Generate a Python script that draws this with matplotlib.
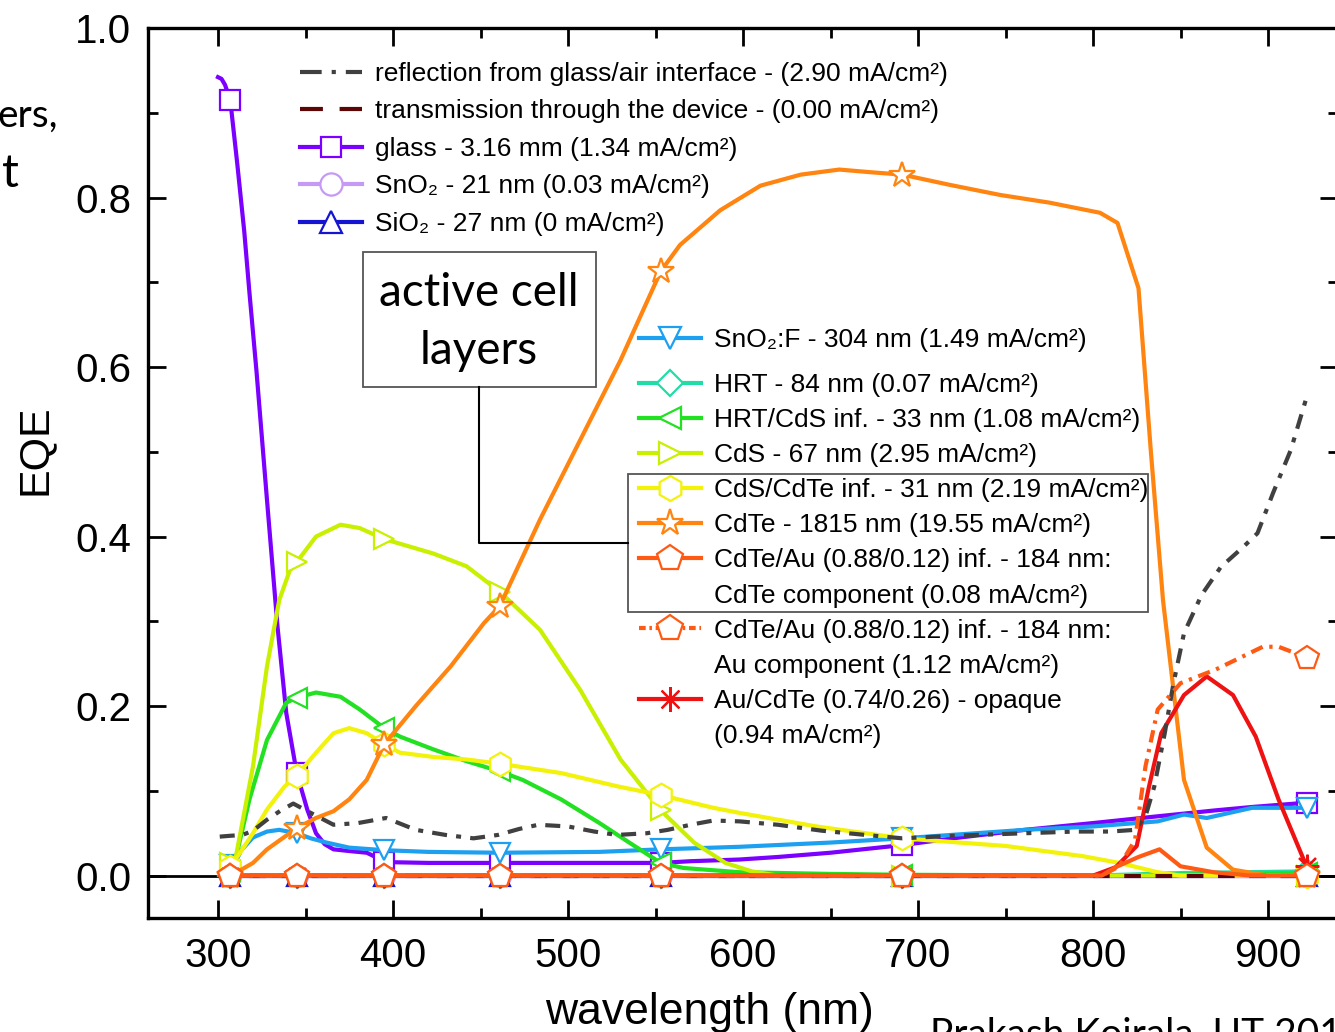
import numpy as np
import matplotlib
matplotlib.use("Agg")
import matplotlib.pyplot as plt
from matplotlib.lines import Line2D
from matplotlib.patches import Rectangle
from matplotlib.ticker import MultipleLocator

plt.rcParams['font.family'] = ['Liberation Sans', 'DejaVu Sans']

# wavelengths (nm) carrying symbols on every curve
MARK_WL = [307, 345, 395, 461, 553, 691, 922]

# reflection from glass/air interface
refl_wl = [301, 307, 314, 320, 328, 336, 343, 353, 366, 380, 396, 413, 430, 446, 460,
           472, 483, 500, 515, 528, 545, 557, 570, 583, 598, 620, 645, 670, 691, 720,
           761, 790, 810, 824, 830, 835, 841, 846, 852, 862, 873, 886, 894, 903, 913, 922]
refl_val = [0.046, 0.047, 0.048, 0.053, 0.066, 0.077, 0.085, 0.074, 0.060, 0.062, 0.068,
            0.054, 0.048, 0.044, 0.048, 0.055, 0.060, 0.058, 0.052, 0.048, 0.050, 0.054,
            0.060, 0.065, 0.064, 0.060, 0.053, 0.048, 0.044, 0.047, 0.050, 0.052, 0.052,
            0.054, 0.070, 0.105, 0.168, 0.227, 0.286, 0.331, 0.364, 0.388, 0.404, 0.452,
            0.502, 0.564]

# transmission through the device
trans_wl = [300, 400, 500, 600, 700, 800, 900, 922]
trans_val = [0, 0, 0, 0, 0, 0, 0, 0]

# glass
glass_wl = [300, 302, 304, 307, 311, 315, 318, 322, 328, 334, 339, 345, 351, 356, 361,
            366, 375, 385, 391, 395, 420, 461, 500, 553, 570, 598, 620, 650, 691, 720,
            761, 800, 837, 870, 891, 922]
glass_val = [0.942, 0.940, 0.933, 0.915, 0.840, 0.760, 0.687, 0.595, 0.443, 0.294, 0.192,
             0.121, 0.078, 0.050, 0.037, 0.031, 0.029, 0.027, 0.021, 0.016, 0.015, 0.015,
             0.015, 0.015, 0.017, 0.019, 0.022, 0.027, 0.036, 0.044, 0.054, 0.062, 0.070,
             0.077, 0.081, 0.086]

# SnO2 and SiO2 barrier layers
sno2_wl = [307, 345, 395, 461, 553, 691, 800, 922]
sno2_val = [0, 0, 0, 0, 0, 0, 0, 0]
sio2_wl = [307, 345, 395, 461, 553, 691, 800, 922]
sio2_val = [0, 0, 0, 0, 0, 0, 0, 0]

# SnO2:F
fto_wl = [307, 312, 320, 328, 335, 345, 353, 362, 375, 395, 420, 461, 518, 553, 598,
          650, 691, 761, 800, 837, 852, 865, 891, 922]
fto_val = [0.012, 0.027, 0.045, 0.052, 0.054, 0.050, 0.044, 0.039, 0.033, 0.030, 0.028,
           0.027, 0.028, 0.031, 0.034, 0.039, 0.044, 0.054, 0.058, 0.064, 0.072, 0.068,
           0.080, 0.080]

# HRT
hrt_wl = [307, 345, 395, 461, 553, 691, 800, 850, 922]
hrt_val = [0, 0, 0, 0, 0, 0, 0, 0.003, 0.005]

# HRT/CdS interface
hc_wl = [307, 310, 318, 328, 339, 345, 356, 370, 381, 395, 404, 423, 442, 461, 474,
         496, 518, 535, 553, 566, 598, 650, 691, 800, 922]
hc_val = [0.005, 0.019, 0.090, 0.160, 0.204, 0.210, 0.216, 0.211, 0.196, 0.174, 0.164,
          0.149, 0.135, 0.123, 0.113, 0.090, 0.062, 0.039, 0.015, 0.009, 0.004, 0.002,
          0.001, 0.0, 0.003]

# CdS
cds_wl = [307, 310, 320, 328, 335, 341, 345, 356, 370, 381, 395, 423, 442, 461, 484,
          507, 530, 553, 572, 590, 605, 620, 691, 800, 922]
cds_val = [0.015, 0.020, 0.129, 0.247, 0.325, 0.360, 0.370, 0.400, 0.414, 0.410, 0.397,
           0.380, 0.365, 0.335, 0.290, 0.219, 0.137, 0.077, 0.039, 0.015, 0.005, 0.0,
           0.0, 0.0, 0.0]

# CdS/CdTe interface
cc_wl = [307, 310, 320, 328, 338, 345, 356, 366, 375, 385, 395, 404, 423, 442, 461,
         496, 529, 553, 583, 598, 642, 691, 750, 794, 815, 837, 850, 922]
cc_val = [0.010, 0.019, 0.050, 0.078, 0.105, 0.118, 0.145, 0.168, 0.174, 0.168, 0.155,
          0.145, 0.140, 0.137, 0.132, 0.121, 0.105, 0.095, 0.080, 0.074, 0.058, 0.044,
          0.035, 0.023, 0.015, 0.004, 0.0, 0.0]

# CdTe
cdte_wl = [307, 310, 320, 328, 345, 356, 366, 375, 385, 395, 413, 433, 452, 461, 484,
           507, 530, 553, 564, 587, 610, 633, 655, 672, 691, 718, 747, 775, 804, 814,
           826, 833, 840, 852, 865, 880, 900, 922]
cdte_val = [0.0, 0.003, 0.015, 0.031, 0.056, 0.068, 0.076, 0.090, 0.113, 0.155, 0.200,
            0.247, 0.298, 0.318, 0.420, 0.514, 0.608, 0.713, 0.744, 0.785, 0.814, 0.827,
            0.833, 0.830, 0.827, 0.815, 0.803, 0.794, 0.782, 0.770, 0.693, 0.502, 0.325,
            0.113, 0.033, 0.007, 0.0, 0.0]

# CdTe/Au interface: CdTe component
cac_wl = [307, 345, 395, 461, 553, 691, 805, 813, 826, 838, 850, 869, 890, 922]
cac_val = [0, 0, 0, 0, 0, 0, 0, 0.010, 0.022, 0.031, 0.011, 0.004, 0.0, 0.0]

# CdTe/Au interface: Au component
cau_wl = [307, 345, 395, 461, 553, 691, 805, 815, 824, 830, 837, 850, 870, 887, 897,
          906, 915, 922]
cau_val = [0, 0, 0, 0, 0, 0, 0.0, 0.011, 0.042, 0.129, 0.196, 0.227, 0.243, 0.260,
           0.270, 0.270, 0.263, 0.257]

# Au/CdTe opaque back contact
au_wl = [307, 345, 395, 461, 553, 691, 800, 813, 825, 832, 839, 852, 865, 880, 893,
         906, 922]
au_val = [0, 0, 0, 0, 0, 0, 0, 0.010, 0.035, 0.105, 0.168, 0.213, 0.235, 0.213, 0.164,
          0.090, 0.011]

labels_top = [
    "reflection from glass/air interface - (2.90 mA/cm\u00b2)",
    "transmission through the device - (0.00 mA/cm\u00b2)",
    "glass - 3.16 mm (1.34 mA/cm\u00b2)",
    "SnO\u2082 - 21 nm (0.03 mA/cm\u00b2)",
    "SiO\u2082 - 27 nm (0 mA/cm\u00b2)",
]
labels_fto = ["SnO\u2082:F - 304 nm (1.49 mA/cm\u00b2)"]
labels_cell = [
    "HRT - 84 nm (0.07 mA/cm\u00b2)",
    "HRT/CdS inf. - 33 nm (1.08 mA/cm\u00b2)",
    "CdS - 67 nm (2.95 mA/cm\u00b2)",
    "CdS/CdTe inf. - 31 nm (2.19 mA/cm\u00b2)",
    "CdTe - 1815 nm (19.55 mA/cm\u00b2)",
    "CdTe/Au (0.88/0.12) inf. - 184 nm:",
    "CdTe component (0.08 mA/cm\u00b2)",
    "CdTe/Au (0.88/0.12) inf. - 184 nm:",
    "Au component (1.12 mA/cm\u00b2)",
    "Au/CdTe (0.74/0.26) - opaque",
    "(0.94 mA/cm\u00b2)",
]

ASTER = (8, 2, 0)
LW = 3.0
REFL_DASH = (3.6, 2.2, 1.2, 2.2)
AU_DASH = (3.0, 1.6, 0.8, 1.6)
# (x, y, colour, dash pattern, marker, marker size, zorder)
series = [
    (glass_wl, glass_val, '#7b00ff', None, 's', 14, 3.0),
    (sno2_wl, sno2_val, '#c59af5', None, 'o', 15, 3.1),
    (sio2_wl, sio2_val, '#1414d2', None, '^', 15, 3.2),
    (fto_wl, fto_val, '#1ea0f0', None, 'v', 15, 3.3),
    (hrt_wl, hrt_val, '#22dca8', None, 'D', 12, 3.4),
    (hc_wl, hc_val, '#22e022', None, '<', 15, 3.5),
    (cds_wl, cds_val, '#c8f000', None, '>', 15, 3.6),
    (cc_wl, cc_val, '#f2f20a', None, 'h', 17, 3.7),
    (cdte_wl, cdte_val, '#ff8410', None, '*', 19, 3.8),
    (au_wl, au_val, '#ee1212', None, ASTER, 17, 3.9),
    (cac_wl, cac_val, '#ff5a14', None, 'p', 18, 4.2),
    (cau_wl, cau_val, '#ff5a14', AU_DASH, 'p', 18, 4.1),
]

W, H = 1335, 1032
fig = plt.figure(figsize=(W / 100, H / 100), dpi=100)
fig.patch.set_facecolor('white')


def fx(px):
    return px / W


def fy(py):
    return 1 - py / H


ax = fig.add_axes([fx(148), fy(918), fx(1338) - fx(148), fy(28) - fy(918)])

ax.plot(refl_wl, refl_val, color='#404040', lw=LW, dashes=REFL_DASH, zorder=4.0)
ax.plot(trans_wl, trans_val, color='#5c0505', lw=LW, dashes=(4, 3.5), zorder=3.95)

for wl, val, col, dash, mk, ms, z in series:
    mask = list(np.isin(wl, MARK_WL))
    ln, = ax.plot(wl, val, color=col, lw=LW, marker=mk, markevery=mask,
                  ms=ms, mfc='white', mec=col, mew=1.6, zorder=z)
    if dash is not None:
        ln.set_dashes(dash)

ax.set_xlim(260, 940)
ax.set_ylim(-0.05, 1.0)
ax.xaxis.set_major_locator(MultipleLocator(100))
ax.xaxis.set_minor_locator(MultipleLocator(50))
ax.yaxis.set_major_locator(MultipleLocator(0.2))
ax.yaxis.set_minor_locator(MultipleLocator(0.1))
ax.yaxis.set_major_formatter(plt.FuncFormatter(lambda v, p: f"{v:.1f}"))
ax.tick_params(which='both', direction='in', top=True, right=True, width=2,
               labelsize=29, color='black')
ax.tick_params(axis='x', which='major', length=13, pad=14)
ax.tick_params(axis='y', which='major', length=13, pad=12)
ax.tick_params(which='minor', length=7)
for s in ax.spines.values():
    s.set_linewidth(2.4)
ax.axhline(0, color='black', lw=2, zorder=2)

ax.set_xlabel("wavelength (nm)", fontsize=32)
ax.set_ylabel("EQE", fontsize=31)
ax.xaxis.set_label_coords(0.472, -0.083)
ax.yaxis.set_label_coords(-0.078, 0.526)


# legend handles
def proxy(col, mk=None, ms=16, dashes=None):
    h = Line2D([], [], color=col, lw=LW, marker=mk, ms=ms, mfc='white',
               mec=col, mew=1.6)
    if dashes is not None:
        h.set_dashes(dashes)
    return h


blank = Line2D([], [], linestyle='none', marker=None)
top_handles = [
    proxy('#404040', dashes=(5.2, 2.4, 1.0, 2.4)),
    proxy('#5c0505', dashes=(5.5, 4.0)),
    proxy('#7b00ff', mk='s', ms=15),
    proxy('#c59af5', mk='o', ms=16),
    proxy('#1414d2', mk='^', ms=16),
]
fto_handles = [proxy('#1ea0f0', mk='v')]
cell_handles = [
    proxy('#22dca8', mk='D', ms=13),
    proxy('#22e022', mk='<'),
    proxy('#c8f000', mk='>'),
    proxy('#f2f20a', mk='h', ms=18),
    proxy('#ff8410', mk='*', ms=20),
    proxy('#ff5a14', mk='p', ms=19),
    blank,
    proxy('#ff5a14', mk='p', ms=19, dashes=(1.6, 0.9, 0.6, 0.9)),
    blank,
    proxy('#ee1212', mk=ASTER, ms=18),
    blank,
]

leg_kw = dict(loc='upper left', bbox_transform=fig.transFigure, frameon=False,
              fontsize=19, borderpad=0, borderaxespad=0, handlelength=2.35,
              handletextpad=0.5)
leg1 = ax.legend(top_handles, labels_top, bbox_to_anchor=(fx(300), fy(62)),
                 labelspacing=0.51, **leg_kw)
ax.add_artist(leg1)
leg2 = ax.legend(fto_handles, labels_fto, bbox_to_anchor=(fx(639), fy(328)),
                 labelspacing=0.42, **leg_kw)
ax.add_artist(leg2)
leg3 = ax.legend(cell_handles, labels_cell, bbox_to_anchor=(fx(639), fy(373)),
                 labelspacing=0.42, **leg_kw)

# box marking the active cell layers and its callout
fig.add_artist(Rectangle((fx(628), fy(612)), fx(1148) - fx(628), fy(474) - fy(612),
                         transform=fig.transFigure, fill=False, ec='#555555', lw=1.3,
                         zorder=6))
fig.add_artist(Rectangle((fx(363), fy(387)), fx(596) - fx(363), fy(252) - fy(387),
                         transform=fig.transFigure, fc='white', ec='#555555', lw=1.3,
                         zorder=6))
fig.text(fx(479), fy(322), "active cell\nlayers", ha='center', va='center',
         fontsize=33, family=['Lato', 'DejaVu Sans'], linespacing=1.45, zorder=7)
fig.add_artist(Line2D([fx(479), fx(479), fx(628)], [fy(387), fy(543), fy(543)],
                      transform=fig.transFigure, color='black', lw=1.5, zorder=6))

# surrounding slide text
fig.text(fx(58), fy(127), "ers,", ha='right', va='baseline', fontsize=28,
         family=['Lato', 'DejaVu Sans'])
fig.text(fx(2), fy(187), "t", ha='left', va='baseline', fontsize=34,
         family=['Lato', 'DejaVu Sans'])
fig.text(fx(930), fy(1046), "Prakash Koirala, UT 201", ha='left', va='baseline',
         fontsize=28, family=['Lato', 'DejaVu Sans'])

fig.savefig("out.png", dpi=100, facecolor='white')
